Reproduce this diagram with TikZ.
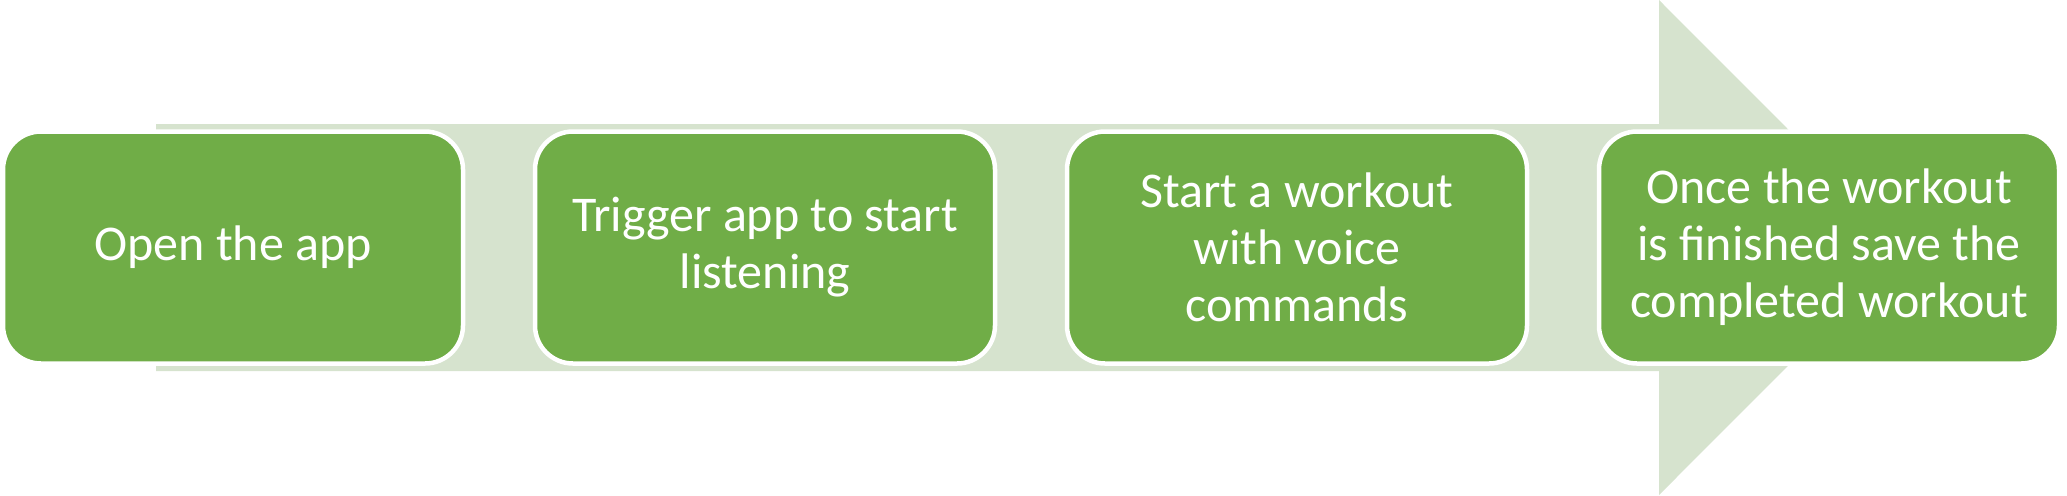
\documentclass[tikz,border=0pt]{standalone}
\usepackage{fontspec}
\setmainfont{Carlito}
\definecolor{boxgreen}{HTML}{70AD47}
\definecolor{arrowgreen}{HTML}{D6E3CE}
\begin{document}
\begin{tikzpicture}[x=0.5pt,y=-0.5pt,
  stepbox/.style={rectangle, rounded corners=19pt, fill=boxgreen, draw=white,
    line width=2.25pt, minimum width=230pt, minimum height=116pt, text=white,
    align=center, font=\fontsize{25}{28.5}\selectfont, inner sep=0pt}]
\useasboundingbox (0,0) rectangle (2067,495);
\fill[arrowgreen] (156,124) -- (1659,124) -- (1659,0) -- (1906,247.5) -- (1659,495) -- (1659,371) -- (156,371) -- cycle;
\node[stepbox] (s1) at (233,247.5) {Open the app};
\node[stepbox] (s2) at (765,247.5) {Trigger app to start\\listening};
\node[stepbox] (s3) at (1297,247.5) {Start a workout\\with voice\\commands};
\node[stepbox] (s4) at (1829,247.5) {Once the workout\\is finished save the\\completed workout};
\end{tikzpicture}
\end{document}
